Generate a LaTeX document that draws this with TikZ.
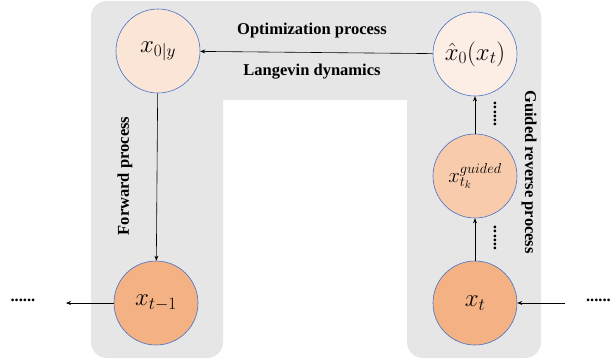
\documentclass[tikz,border=0pt]{standalone}
\usepackage{fontspec}
\setmainfont{Liberation Serif}
\usetikzlibrary{arrows.meta}
\definecolor{bggray}{HTML}{E6E6E6}
\definecolor{cedge}{HTML}{4472C4}
\definecolor{cA}{HTML}{FBE5D6}
\definecolor{cB}{HTML}{FDEEE5}
\definecolor{cC}{HTML}{F8CBAD}
\definecolor{cD}{HTML}{F4B183}
\tikzset{
  state/.style={circle, draw=cedge, line width=0.6pt, minimum size=84pt, inner sep=0pt, font=\fontsize{26}{28}\selectfont},
  lbl/.style={font=\bfseries\fontsize{16.5}{18}\selectfont, inner sep=0pt},
  dots/.style={font=\bfseries\fontsize{16.5}{18}\selectfont, inner sep=0pt},
  conn/.style={line width=0.6pt, -{Stealth[length=5pt,width=4pt]}},
  panel/.style={fill=bggray, rounded corners=16pt}
}
\begin{document}
\begin{tikzpicture}[x=1pt,y=-1pt]
\useasboundingbox (0,0) rectangle (611,362);
% background panels
\fill[panel] (91,1) rectangle (541,100);
\fill[panel] (91,1) rectangle (223,358);
\fill[panel] (407,1) rectangle (541,358);
% nodes
\node[state, fill=cA] (x0y) at (158,51) {$x_{0|y}$};
\node[state, fill=cB] (xhat) at (475,54) {$\hat{x}_0(x_t)$};
\node[state, fill=cC, font=\fontsize{21}{23}\selectfont] (xtk) at (475,176) {$x_{t_k}^{guided}$};
\node[state, fill=cD] (xt) at (475,303) {$x_t$};
\node[state, fill=cD] (xtm) at (156,303) {$x_{t-1}$};
% labels
\node[lbl] (opt) at (312,31) {Optimization process};
\node[lbl] (lang) at (312,72) {Langevin dynamics};
\node[lbl, rotate=90] (fwd) at (125,176) {Forward process};
\node[lbl, rotate=-90] (grp) at (529,172) {Guided reverse process};
% dots
\node[dots] (dl) at (23,300) {......};
\node[dots, anchor=east] (dr) at (611,300) {......};
\node[dots, rotate=90] (dv1) at (495,114) {......};
\node[dots, rotate=90] (dv2) at (495,238) {......};
\coordinate (lend) at (66,303);
\coordinate (rstart) at (565,303);
% connectors
\draw[conn] (xhat) -- (x0y);
\draw[conn] (x0y) -- (xtm);
\draw[conn] (xt) -- (xtk);
\draw[conn] (xtk) -- (xhat);
\draw[conn] (xtm.west) -- (lend);
\draw[conn] (rstart) -- (xt.east);
\end{tikzpicture}
\end{document}
